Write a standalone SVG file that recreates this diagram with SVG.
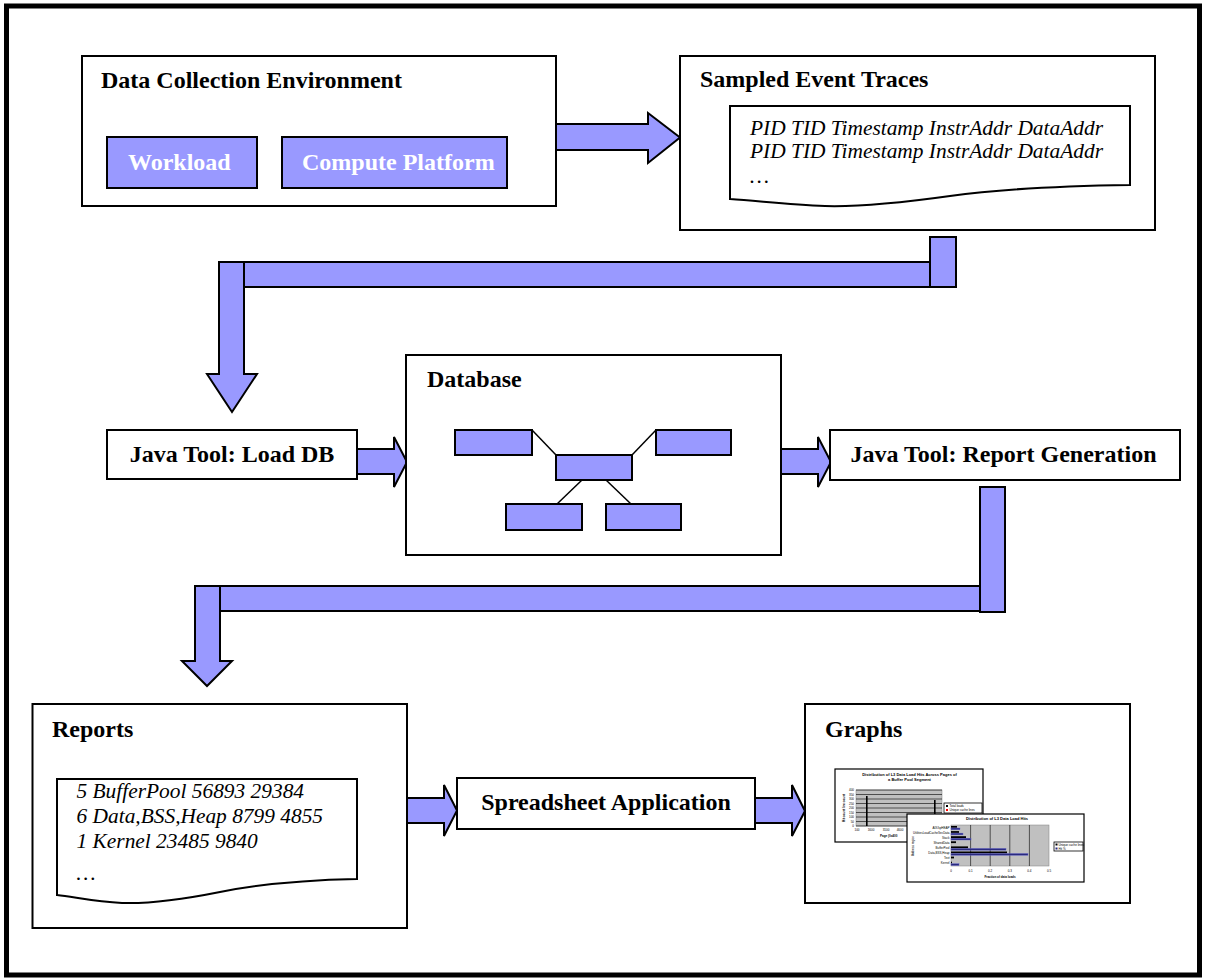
<svg xmlns="http://www.w3.org/2000/svg" width="1205" height="979" viewBox="0 0 1205 979">
<style>
.box{fill:#fff;stroke:#000;stroke-width:2}
.blue{fill:#9999ff;stroke:#000;stroke-width:2;stroke-linejoin:miter}
.t{font-family:"Liberation Serif","Times New Roman",serif;font-weight:bold;font-size:24px;fill:#000}
.w{fill:#fff}
.it{font-family:"Liberation Serif","Times New Roman",serif;font-style:italic;font-size:21.4px;fill:#000}
.ln{stroke:#000;stroke-width:1.5;fill:none}
.ch{fill:#fff;stroke:#000;stroke-width:1.2}
.pl{fill:#c0c0c0;stroke:#808080;stroke-width:0.5}
.g{stroke:#000;stroke-width:0.6}
.s{font-family:"Liberation Sans",Arial,sans-serif;font-size:3px;fill:#000}
.sb{font-family:"Liberation Sans",Arial,sans-serif;font-size:4px;font-weight:bold;fill:#000}
</style>
<rect width="1205" height="979" fill="#fff"/>
<rect x="6.5" y="6" width="1193" height="969" fill="none" stroke="#000" stroke-width="5"/>

<g id="connectors">
  <polygon class="blue" points="556,124 648,124 648,113 680,137.5 648,163 648,150 556,150"/>
  <g id="c-traces-loaddb">
    <rect class="blue" x="219" y="262" width="711" height="25"/>
    <polygon class="blue" points="219,262 244,262 244,374 257,374 232,412 207,374 219,374"/>
    <rect class="blue" x="930" y="237" width="26" height="50"/>
  </g>
  <polygon class="blue" points="357,449 394,449 394,437 407,462 394,487 394,474 357,474"/>
  <polygon class="blue" points="781,449 818,449 818,437 831,462 818,487 818,474 781,474"/>
  <g id="c-report-reports">
    <rect class="blue" x="195" y="586" width="785" height="25"/>
    <polygon class="blue" points="195,586 220,586 220,661 232,661 207,686 182,661 195,661"/>
    <rect class="blue" x="980" y="487" width="25" height="125"/>
  </g>
  <polygon class="blue" points="407,798 444,798 444,785 457,810.5 444,836 444,823 407,823"/>
  <polygon class="blue" points="755,798 792,798 792,785 805,811 792,836 792,823 755,823"/>
</g>

<g id="dce">
  <rect class="box" x="82" y="56" width="474" height="150"/>
  <text class="t" x="101" y="88">Data Collection Environment</text>
  <rect class="blue" x="107" y="137" width="150" height="51"/>
  <text class="t w" x="128" y="170">Workload</text>
  <rect class="blue" x="282" y="137" width="225" height="51"/>
  <text class="t w" x="302" y="170">Compute Platform</text>
</g>

<g id="traces">
  <rect class="box" x="680" y="56" width="475" height="174"/>
  <text class="t" x="700" y="87">Sampled Event Traces</text>
  <path class="box" d="M730,106 H1130 V185 C1060,186 1000,189 950,196 C900,203 860,207 825,206 C790,205 760,201 730,199 Z"/>
  <text class="it" x="750" y="135">PID TID Timestamp InstrAddr DataAddr</text>
  <text class="it" x="750" y="158">PID TID Timestamp InstrAddr DataAddr</text>
  <text class="it" x="750" y="183">…</text>
</g>

<g id="loaddb">
  <rect class="box" x="107" y="430" width="250" height="49"/>
  <text class="t" x="232" y="462" text-anchor="middle">Java Tool: Load DB</text>
</g>

<g id="database">
  <rect class="box" x="406" y="355" width="375" height="200"/>
  <text class="t" x="427" y="387">Database</text>
  <line class="ln" x1="532" y1="430" x2="556" y2="455"/>
  <line class="ln" x1="632" y1="455" x2="656" y2="430"/>
  <line class="ln" x1="582" y1="480" x2="557" y2="504"/>
  <line class="ln" x1="606" y1="480" x2="631" y2="504"/>
  <rect class="blue" x="455" y="430" width="77" height="25"/>
  <rect class="blue" x="556" y="455" width="76" height="25"/>
  <rect class="blue" x="656" y="430" width="75" height="25"/>
  <rect class="blue" x="506" y="504" width="76" height="26"/>
  <rect class="blue" x="606" y="504" width="75" height="26"/>
</g>

<g id="reportgen">
  <rect class="box" x="830" y="430" width="350" height="50"/>
  <text class="t" x="1003.5" y="462" text-anchor="middle">Java Tool: Report Generation</text>
</g>

<g id="reports">
  <rect class="box" x="32.5" y="704" width="374.5" height="224"/>
  <text class="t" x="52" y="737">Reports</text>
  <path class="box" d="M57,779 H357 V879 C305,880 260,884 220,892 C180,900 150,904 122,903 C95,902 75,897 57,895 Z"/>
  <text class="it" x="76.5" y="798">5 BufferPool 56893 29384</text>
  <text class="it" x="76.5" y="823">6 Data,BSS,Heap 8799 4855</text>
  <text class="it" x="76.5" y="848">1 Kernel 23485 9840</text>
  <text class="it" x="76.5" y="880">…</text>
</g>

<g id="spreadsheet">
  <rect class="box" x="457" y="778" width="298" height="51"/>
  <text class="t" x="606" y="810" text-anchor="middle">Spreadsheet Application</text>
</g>

<g id="graphs">
  <rect class="box" x="805" y="704" width="325" height="199"/>
  <text class="t" x="825" y="737">Graphs</text>
  <g id="chart1">
    <rect class="ch" x="835" y="769" width="148" height="73"/>
    <text class="sb" x="909.5" y="776" text-anchor="middle">Distribution of L3 Data Load Hits Across Pages of</text>
    <text class="sb" x="909.5" y="781" text-anchor="middle">a Buffer Pool Segment</text>
    <rect class="pl" x="856" y="790" width="86" height="36"/>
    <g class="g">
      <line x1="856" y1="790" x2="942" y2="790"/><line x1="856" y1="794.5" x2="942" y2="794.5"/>
      <line x1="856" y1="799" x2="942" y2="799"/><line x1="856" y1="803.5" x2="942" y2="803.5"/>
      <line x1="856" y1="808" x2="942" y2="808"/><line x1="856" y1="812.5" x2="942" y2="812.5"/>
      <line x1="856" y1="817" x2="942" y2="817"/><line x1="856" y1="821.5" x2="942" y2="821.5"/>
      <line x1="856" y1="826" x2="942" y2="826"/>
    </g>
    <rect x="866" y="796" width="1.6" height="30" fill="#000"/>
    <rect x="934" y="800" width="1.6" height="26" fill="#000"/>
    <g class="s" text-anchor="end">
      <text x="854" y="791">400</text><text x="854" y="795.5">350</text><text x="854" y="800">300</text>
      <text x="854" y="804.5">250</text><text x="854" y="809">200</text><text x="854" y="813.5">150</text>
      <text x="854" y="818">100</text><text x="854" y="822.5">50</text><text x="854" y="827">0</text>
    </g>
    <text class="s" transform="translate(845,808) rotate(-90)" text-anchor="middle" font-weight="bold">Hit count line count</text>
    <g class="s" text-anchor="middle">
      <text x="857" y="831">100</text><text x="871" y="831">1600</text><text x="886" y="831">3100</text><text x="900" y="831">4600</text>
    </g>
    <text class="s" x="880" y="837" font-weight="bold">Page (0x400</text>
    <rect x="944" y="803" width="38" height="10" fill="#fff" stroke="#000" stroke-width="0.8"/>
    <rect x="946" y="805" width="2" height="2" fill="#000"/>
    <text class="s" x="949.5" y="807.2">Total loads</text>
    <rect x="946" y="809" width="2" height="2" fill="#f00"/>
    <text class="s" x="949.5" y="811.2">Unique cache lines</text>
  </g>
  <g id="chart2">
    <rect class="ch" x="907" y="814" width="177" height="68"/>
    <text class="sb" x="997" y="820" text-anchor="middle">Distribution of L3 Data Load Hits</text>
    <rect class="pl" x="951" y="825" width="98" height="41"/>
    <g class="g">
      <line x1="970.6" y1="825" x2="970.6" y2="866"/><line x1="990.2" y1="825" x2="990.2" y2="866"/>
      <line x1="1009.8" y1="825" x2="1009.8" y2="866"/><line x1="1029.4" y1="825" x2="1029.4" y2="866"/>
    </g>
    <g fill="#000">
      <rect x="951" y="826" width="6" height="1.8"/>
      <rect x="951" y="831.1" width="8" height="1.8"/>
      <rect x="951" y="836.2" width="15" height="1.8"/>
      <rect x="951" y="841.3" width="5" height="1.8"/>
      <rect x="951" y="846.4" width="17" height="1.8"/>
      <rect x="951" y="851.5" width="56" height="1.8"/>
      <rect x="951" y="856.6" width="3" height="1.8"/>
      <rect x="951" y="861.7" width="1" height="1.8"/>
    </g>
    <g fill="#2a2a80" stroke="#6666cc" stroke-width="0.4">
      <rect x="951" y="828" width="9" height="1.8"/>
      <rect x="951" y="833.1" width="12" height="1.8"/>
      <rect x="951" y="838.2" width="20" height="1.8"/>
      <rect x="951" y="848.4" width="55" height="1.8"/>
      <rect x="951" y="853.5" width="77" height="1.8"/>
      <rect x="951" y="863.7" width="8" height="1.8"/>
    </g>
    <g class="s" text-anchor="end" font-size="2.6">
      <text x="949.5" y="828.5">AIX/kpHEAP</text>
      <text x="949.5" y="833.6">UtilitiesLoadCacheSecData</text>
      <text x="949.5" y="838.7">Stack</text>
      <text x="949.5" y="843.8">SharedData</text>
      <text x="949.5" y="848.9">BufferPool</text>
      <text x="949.5" y="854">Data,BSS,Heap</text>
      <text x="949.5" y="859.1">Text</text>
      <text x="949.5" y="864.2">Kernel</text>
    </g>
    <text class="s" transform="translate(914,846) rotate(-90)" text-anchor="middle" font-size="2.6">Address region</text>
    <g class="s" text-anchor="middle" font-size="2.6">
      <text x="951" y="872">0</text><text x="970.6" y="872">0.1</text><text x="990.2" y="872">0.2</text>
      <text x="1009.8" y="872">0.3</text><text x="1029.4" y="872">0.4</text><text x="1049" y="872">0.5</text>
    </g>
    <text class="s" x="1000" y="877.5" text-anchor="middle" font-size="2.6" font-weight="bold">Fraction of data loads</text>
    <rect x="1054" y="842" width="29" height="9" fill="#fff" stroke="#000" stroke-width="0.8"/>
    <rect x="1055.5" y="843.5" width="2" height="2" fill="#000"/>
    <text class="s" x="1058.5" y="845.6" font-size="2.4">Unique cache lines</text>
    <rect x="1055.5" y="847.5" width="2" height="2" fill="#2a2a80"/>
    <text class="s" x="1058.5" y="849.6" font-size="2.4">Hit %</text>
  </g>
</g>
</svg>
